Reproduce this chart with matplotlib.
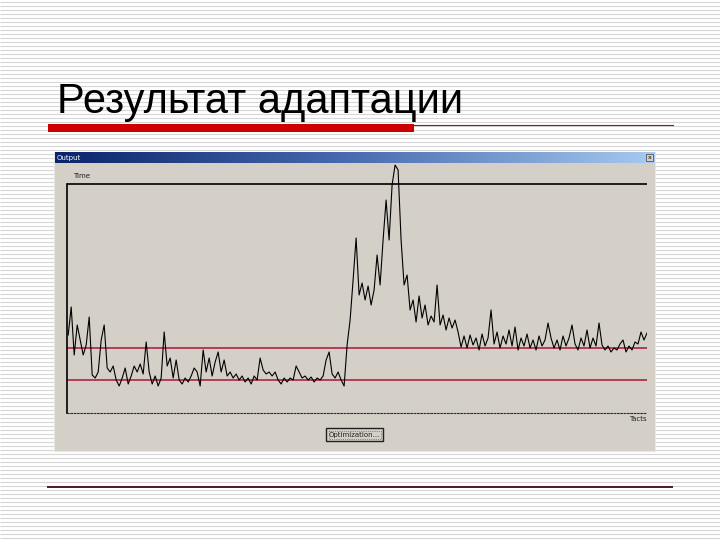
import numpy as np
import matplotlib
matplotlib.use("Agg")
import matplotlib.pyplot as plt
from matplotlib.colors import LinearSegmentedColormap

# ---- data (arbitrary units) ----
title = "Результат адаптации"
window_title = "Output"
y_label = "Time"
x_label = "Tacts"
button_label = "Optimization..."

signal = [78, 106, 58, 88, 73, 58, 68, 96, 38, 35, 41, 73, 88, 45, 41, 47, 33, 27,
          35, 45, 29, 37, 47, 41, 49, 39, 71, 41, 29, 37, 27, 35, 81, 47, 55, 35,
          53, 33, 29, 35, 31, 37, 45, 41, 27, 63, 41, 55, 37, 51, 61, 41, 53, 37,
          41, 35, 39, 33, 37, 31, 35, 29, 37, 33, 55, 43, 39, 41, 37, 41, 33, 29,
          35, 31, 35, 33, 47, 41, 35, 37, 33, 36, 31, 35, 33, 37, 53, 61, 39, 35,
          41, 33, 27, 68, 93, 133, 175, 118, 130, 113, 127, 108, 123, 158, 128,
          173, 213, 173, 228, 248, 243, 173, 128, 138, 103, 113, 91, 117, 95, 108,
          88, 97, 91, 128, 88, 98, 83, 95, 85, 93, 81, 66, 77, 65, 78, 68, 75, 63,
          79, 67, 75, 103, 69, 81, 65, 77, 69, 83, 67, 86, 63, 75, 67, 79, 65, 73,
          63, 77, 67, 73, 90, 75, 65, 73, 63, 77, 67, 75, 88, 69, 63, 75, 67, 83,
          65, 75, 67, 90, 68, 63, 67, 61, 65, 63, 69, 73, 61, 67, 63, 71, 69, 81,
          73, 80]
upper_limit = 65
lower_limit = 33
frame_top = 229
y_max = 250

W, H = 720, 540
fig = plt.figure(figsize=(W / 100, H / 100), dpi=100)
fig.patch.set_facecolor("white")

# ---- slide background ----
bg = fig.add_axes([0, 0, 1, 1])
bg.set_xlim(0, W)
bg.set_ylim(H, 0)
bg.axis("off")
bg.hlines(np.arange(2, H, 4), 0, W, color="#D6D6D6", lw=0.8, zorder=1)

# title
bg.text(57, 113, title, fontsize=30, family="Liberation Sans", color="black",
        va="baseline", ha="left", zorder=5)
bg.add_patch(plt.Rectangle((48, 124), 366, 7.5, color="#CC0000", lw=0, zorder=5))
bg.plot([414, 673], [124.5, 124.5], color="#8B1A1A", lw=0.8, zorder=5)
bg.plot([48, 672], [486.5, 486.5], color="#4A1A24", lw=1.4, zorder=5)

# window
bg.add_patch(plt.Rectangle((54, 152), 601, 299, facecolor="#D4D0C8",
                           edgecolor="#E8E6E0", lw=0.8, zorder=3))
grad = np.linspace(0, 1, 256)[None, :]
cmap = LinearSegmentedColormap.from_list("tb", ["#0A246A", "#4A6CB0", "#A6CAF0"])
bg.imshow(grad, cmap=cmap, aspect="auto", extent=[55, 655, 163, 152], zorder=4)
bg.text(57, 158, window_title, fontsize=5, color="white", va="center",
        ha="left", zorder=6)
bg.add_patch(plt.Rectangle((646, 154), 7, 7, facecolor="#D4D0C8",
                           edgecolor="#404040", lw=0.5, zorder=6))
bg.text(649.5, 157.5, "x", fontsize=4.5, ha="center", va="center", zorder=7)
bg.text(73, 176, y_label, fontsize=5, color="#202020", va="center", ha="left", zorder=6)
bg.text(647, 419, x_label, fontsize=5, color="#202020", va="center", ha="right", zorder=6)
# button
bg.add_patch(plt.Rectangle((326, 428), 57, 13, facecolor="#D4D0C8",
                           edgecolor="#202020", lw=1.0, zorder=6))
bg.add_patch(plt.Rectangle((328.5, 430.5), 52, 8, fill=False,
                           edgecolor="#404040", lw=0.5, ls=":", zorder=7))
bg.text(354.5, 434.5, button_label, fontsize=5, ha="center", va="center",
        color="#202020", zorder=7)

# ---- chart inside the window ----
left, right = 67 / W, 647 / W
bottom, top = (H - 413) / H, (H - 163) / H
ax = fig.add_axes([left, bottom, right - left, top - bottom])
ax.set_facecolor("none")
x = np.arange(len(signal))
ax.set_xlim(-0.4, len(signal) - 1)
ax.set_ylim(0, y_max)
ax.axhline(frame_top, color="black", lw=1.2)
ax.axhline(upper_limit, color="#B0304C", lw=1.3)
ax.axhline(lower_limit, color="#B0304C", lw=1.3)
ax.plot(x, signal, color="black", lw=0.8)
for s in ["top", "right"]:
    ax.spines[s].set_visible(False)
ax.spines["left"].set_color("black")
ax.spines["left"].set_linewidth(1.2)
ax.spines["left"].set_bounds(0, frame_top)
ax.spines["bottom"].set_color("#303030")
ax.spines["bottom"].set_linestyle((0, (1.5, 1.5)))
ax.spines["bottom"].set_linewidth(0.8)
ax.set_xticks([])
ax.set_yticks([])

fig.savefig("out.png", dpi=100)
